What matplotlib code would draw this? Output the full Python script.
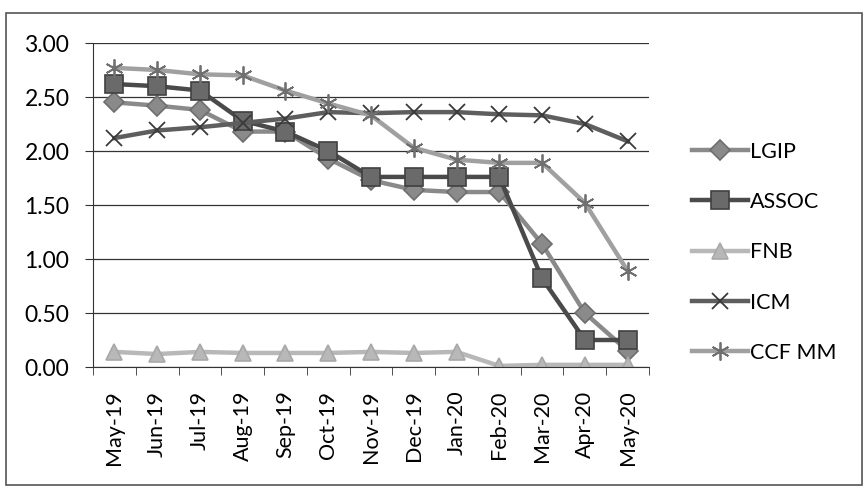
import numpy as np
import matplotlib.pyplot as plt
from matplotlib.patches import Rectangle

plt.rcParams['font.family'] = ['Lato', 'DejaVu Sans']

# dados
meses = ['May-19', 'Jun-19', 'Jul-19', 'Aug-19', 'Sep-19', 'Oct-19', 'Nov-19',
         'Dec-19', 'Jan-20', 'Feb-20', 'Mar-20', 'Apr-20', 'May-20']
lgip = [2.45, 2.42, 2.38, 2.18, 2.18, 1.93, 1.73, 1.64, 1.62, 1.62, 1.14, 0.50, 0.15]
assoc = [2.62, 2.60, 2.56, 2.28, 2.18, 2.00, 1.76, 1.76, 1.76, 1.76, 0.82, 0.25, 0.25]
fnb = [0.14, 0.12, 0.14, 0.13, 0.13, 0.13, 0.14, 0.13, 0.14, 0.01, 0.02, 0.02, 0.02]
icm = [2.12, 2.19, 2.22, 2.26, 2.30, 2.36, 2.35, 2.36, 2.36, 2.34, 2.33, 2.25, 2.09]
ccf = [2.77, 2.75, 2.71, 2.70, 2.56, 2.44, 2.33, 2.03, 1.92, 1.89, 1.89, 1.52, 0.89]

fig = plt.figure(figsize=(8.65, 4.87), dpi=100)
ax = fig.add_axes([93/865, 1 - 367/487, (649 - 93)/865, (367 - 43)/487])

# moldura externa do gráfico
fig.patches.append(Rectangle((6/865, 1 - 485/487), 856/865, 472/487,
                             transform=fig.transFigure, fill=False,
                             edgecolor='#555555', linewidth=1.2))

x = np.arange(len(meses))
estilo = dict(linewidth=3.2, markeredgewidth=1.2)
ax.plot(x, lgip, color='#8a8a8a', marker='D', markersize=10,
        markerfacecolor='#8a8a8a', markeredgecolor='#6e6e6e', label='LGIP', **estilo)
ax.plot(x, assoc, color='#4a4a4a', marker='s', markersize=13,
        markerfacecolor='#6a6a6a', markeredgecolor='#404040', label='ASSOC', **estilo)
ax.plot(x, fnb, color='#b8b8b8', marker='^', markersize=12,
        markerfacecolor='#b8b8b8', markeredgecolor='#a8a8a8', label='FNB', **estilo)
ax.plot(x, icm, color='#5e5e5e', marker='x', markersize=12,
        markeredgecolor='#3a3a3a', label='ICM', linewidth=3.2, markeredgewidth=1.3)
ax.plot(x, ccf, color='#a0a0a0', marker=(6, 2, 0), markersize=13,
        markeredgecolor='#707070', label='CCF MM', linewidth=3.2, markeredgewidth=1.3)

ax.set_xlim(-0.5, len(meses) - 0.5)
ax.set_ylim(0, 3)
ax.set_yticks(np.arange(0, 3.01, 0.5))
ax.set_yticklabels([f'{v:.2f}' for v in np.arange(0, 3.01, 0.5)], fontsize=16.5)
ax.set_xticks(x)
ax.set_xticklabels(meses, rotation=90, fontsize=15.5)
ax.set_xticks(np.arange(-0.5, len(meses)), minor=True)
ax.tick_params(axis='x', which='major', length=0, pad=17)
ax.tick_params(axis='x', which='minor', length=6, color='#333333')
ax.tick_params(axis='y', length=6, color='#333333', pad=11)
ax.yaxis.grid(True, color='#333333', linewidth=0.9)
ax.set_axisbelow(True)
for lado in ['top', 'right']:
    ax.spines[lado].set_visible(False)
ax.spines['left'].set_color('#333333')
ax.spines['bottom'].set_color('#333333')

fig.legend(loc='upper left', bbox_to_anchor=(683/865, 1 - 133/487), frameon=False,
           fontsize=15.5, handlelength=2.6, handletextpad=0.1, labelspacing=1.41,
           borderaxespad=0)

fig.savefig('out.png', dpi=100)
